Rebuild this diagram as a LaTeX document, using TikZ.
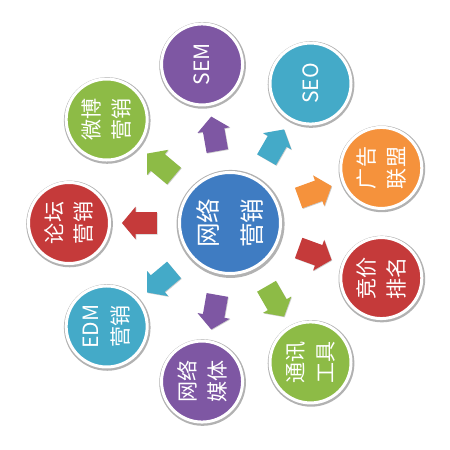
\documentclass[tikz,border=0pt]{standalone}
\usepackage{fontspec}
\setmainfont{Noto Sans CJK SC}
\usetikzlibrary{shapes.arrows,shadows}
\definecolor{hubblue}{RGB}{63,124,194}
\definecolor{mkred}{RGB}{197,58,58}
\definecolor{mkgreen}{RGB}{141,187,70}
\definecolor{mkteal}{RGB}{68,170,200}
\definecolor{mkpurple}{RGB}{126,87,163}
\definecolor{mkorange}{RGB}{245,146,60}
\tikzstyle{every node} = [
		inner sep = 0pt,
		text = white
	]
\tikzstyle{channel} = [
		circle,
		minimum size = 1.62cm,
		draw = white,
		line width = .06cm,
		rotate = 90,
		align = center,
		font = \fontsize{12}{17}\selectfont,
		drop shadow = {shadow xshift=.3pt, shadow yshift=-.5pt, shadow scale=1.07, opacity=.3, fill=black}
	]
\tikzstyle{hub} = [
		channel,
		minimum size = 2.02cm,
		font = \fontsize{14}{25}\selectfont
	]
\tikzstyle{push} = [
		single arrow,
		inner xsep = 0pt,
		inner ysep = .21cm,
		minimum height = .7cm,
		minimum width = .64cm,
		single arrow head extend = .11cm,
		single arrow tip angle = 100,
		drop shadow = {shadow xshift=.4pt, shadow yshift=-.4pt, opacity=.2, fill=black}
	]

\begin{document}
\begin{tikzpicture}

		\useasboundingbox (0,0) rectangle (9,9);

		%------------------------------Hub------------------------------
		\node [hub, fill=hubblue] (hub) at (4.6,4.54) {网络\\营销};

		%------------------------------Channels------------------------------
		\node [channel, fill=mkred] (forum) at ([shift={(180:3.22)}]hub) {论坛\\营销};
		\node [channel, fill=mkgreen] (weibo) at ([shift={(140:3.22)}]hub) {微博\\营销};
		\node [channel, fill=mkpurple] (sem) at ([shift={(100:3.22)}]hub) {SEM};
		\node [channel, fill=mkteal] (seo) at ([shift={(60:3.22)}]hub) {SEO};
		\node [channel, fill=mkorange] (ads) at ([shift={(20:3.22)}]hub) {广告\\联盟};
		\node [channel, fill=mkred] (bid) at ([shift={(-20:3.22)}]hub) {竞价\\排名};
		\node [channel, fill=mkgreen] (chat) at ([shift={(-60:3.22)}]hub) {通讯\\工具};
		\node [channel, fill=mkpurple] (media) at ([shift={(-100:3.22)}]hub) {网络\\媒体};
		\node [channel, fill=mkteal] (edm) at ([shift={(-140:3.22)}]hub) {EDM\\营销};

		%------------------------------Arrows------------------------------
		\node [push, fill=mkred, rotate=180] (to-forum) at ([shift={(180:1.72)}]hub) {};
		\node [push, fill=mkgreen, rotate=140] (to-weibo) at ([shift={(140:1.72)}]hub) {};
		\node [push, fill=mkpurple, rotate=100] (to-sem) at ([shift={(100:1.72)}]hub) {};
		\node [push, fill=mkteal, rotate=60] (to-seo) at ([shift={(60:1.72)}]hub) {};
		\node [push, fill=mkorange, rotate=20] (to-ads) at ([shift={(20:1.72)}]hub) {};
		\node [push, fill=mkred, rotate=-20] (to-bid) at ([shift={(-20:1.72)}]hub) {};
		\node [push, fill=mkgreen, rotate=-60] (to-chat) at ([shift={(-60:1.72)}]hub) {};
		\node [push, fill=mkpurple, rotate=-100] (to-media) at ([shift={(-100:1.72)}]hub) {};
		\node [push, fill=mkteal, rotate=-140] (to-edm) at ([shift={(-140:1.72)}]hub) {};

\end{tikzpicture}
\end{document}
